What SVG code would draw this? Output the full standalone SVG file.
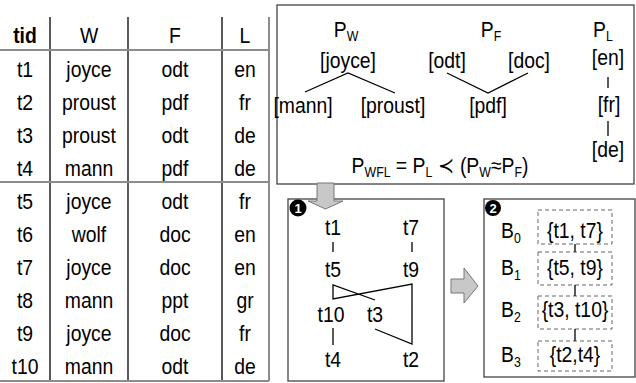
<svg xmlns="http://www.w3.org/2000/svg" width="636" height="383" viewBox="0 0 636 383">
<style>
text{font-family:"Liberation Sans",Arial,sans-serif;font-size:22px;fill:#000;text-anchor:middle;transform-box:fill-box;transform-origin:center;transform:scaleX(0.88)}
.b{font-weight:bold}
.sub{font-size:14px}
.num{font-size:13px;font-weight:bold;fill:#fff;transform:none}
.gl{stroke:#8c8c8c;stroke-width:2;fill:none}
.dl{stroke:#000;stroke-width:1.3;fill:none}
.box{fill:#fff;stroke:#444;stroke-width:1.3}
.dash{fill:none;stroke:#666;stroke-width:1;stroke-dasharray:4,3}
.arrow{fill:#c8c8c8;stroke:#777;stroke-width:1}
</style>
<rect width="636" height="383" fill="#fff"/>
<g id="table">
<line class="dl" x1="50" y1="17" x2="50" y2="381"/>
<line class="dl" x1="128" y1="17" x2="128" y2="381"/>
<line class="dl" x1="222" y1="17" x2="222" y2="381"/>
<line class="gl" x1="269" y1="17" x2="269" y2="381"/>
<line class="gl" x1="0" y1="50" x2="269" y2="50"/>
<line class="gl" x1="0" y1="182" x2="269" y2="182"/>
<line class="gl" x1="0" y1="381" x2="269" y2="381"/>
<text class="b" x="25" y="43">tid</text><text x="89" y="43">W</text><text x="175" y="43">F</text><text x="245" y="43">L</text>
<text x="25" y="77">t1</text><text x="89" y="77">joyce</text><text x="175" y="77">odt</text><text x="245" y="77">en</text>
<text x="25" y="110">t2</text><text x="89" y="110">proust</text><text x="175" y="110">pdf</text><text x="245" y="110">fr</text>
<text x="25" y="143">t3</text><text x="89" y="143">proust</text><text x="175" y="143">odt</text><text x="245" y="143">de</text>
<text x="25" y="176">t4</text><text x="89" y="176">mann</text><text x="175" y="176">pdf</text><text x="245" y="176">de</text>
<text x="25" y="209">t5</text><text x="89" y="209">joyce</text><text x="175" y="209">odt</text><text x="245" y="209">fr</text>
<text x="25" y="242">t6</text><text x="89" y="242">wolf</text><text x="175" y="242">doc</text><text x="245" y="242">en</text>
<text x="25" y="275">t7</text><text x="89" y="275">joyce</text><text x="175" y="275">doc</text><text x="245" y="275">en</text>
<text x="25" y="308">t8</text><text x="89" y="308">mann</text><text x="175" y="308">ppt</text><text x="245" y="308">gr</text>
<text x="25" y="341">t9</text><text x="89" y="341">joyce</text><text x="175" y="341">doc</text><text x="245" y="341">fr</text>
<text x="25" y="374">t10</text><text x="89" y="374">mann</text><text x="175" y="374">odt</text><text x="245" y="374">de</text>
</g>
<g id="hierarchies">
<rect class="box" x="277" y="5" width="357" height="179"/>
<text x="346" y="37">P<tspan class="sub" dy="4">W</tspan></text>
<text x="491" y="37">P<tspan class="sub" dy="4">F</tspan></text>
<text x="603" y="37">P<tspan class="sub" dy="4">L</tspan></text>
<text x="348" y="68">[joyce]</text>
<text x="303" y="113">[mann]</text>
<text x="393" y="113">[proust]</text>
<text x="447" y="68">[odt]</text>
<text x="529" y="68">[doc]</text>
<text x="488" y="113">[pdf]</text>
<text x="608" y="65">[en]</text>
<text x="609" y="112">[fr]</text>
<text x="608" y="157">[de]</text>
<polyline class="dl" points="305,92 348,73 395,93"/>
<polyline class="dl" points="447,73 488,93 528,73"/>
<line class="dl" x1="608" y1="77" x2="608" y2="88"/>
<line class="dl" x1="608" y1="121" x2="608" y2="136"/>
<text x="440" y="173">P<tspan class="sub" dy="4">WFL</tspan><tspan dy="-4"> = P</tspan><tspan class="sub" dy="4">L</tspan><tspan dy="-4"> ≺ (P</tspan><tspan class="sub" dy="4">W</tspan><tspan dy="-4">≈P</tspan><tspan class="sub" dy="4">F</tspan><tspan dy="-4">)</tspan></text>
</g>
<g id="step1">
<rect class="box" x="288" y="199" width="156" height="182"/>
<circle cx="298" cy="208" r="8.5" fill="#000"/>
<text class="num" x="298" y="213">1</text>
<text x="333" y="235">t1</text><text x="411" y="235">t7</text>
<text x="333" y="277">t5</text><text x="411" y="277">t9</text>
<text x="331" y="322">t10</text><text x="375" y="322">t3</text>
<text x="333" y="367">t4</text><text x="411" y="367">t2</text>
</g>
<g id="step2">
<rect class="box" x="484" y="199" width="151" height="178"/>
<circle cx="493" cy="208" r="8" fill="#000"/>
<text class="num" x="493" y="213">2</text>
<text x="511" y="238">B<tspan class="sub" dy="5">0</tspan></text>
<text x="511" y="275">B<tspan class="sub" dy="5">1</tspan></text>
<text x="511" y="317">B<tspan class="sub" dy="5">2</tspan></text>
<text x="511" y="362">B<tspan class="sub" dy="5">3</tspan></text>
<rect class="dash" x="538" y="210" width="74" height="34"/>
<rect class="dash" x="538" y="252" width="74" height="33"/>
<rect class="dash" x="538" y="296" width="74" height="33"/>
<rect class="dash" x="538" y="341" width="74" height="30"/>
<text x="575" y="238">{t1, t7}</text>
<text x="575" y="275">{t5, t9}</text>
<text x="575" y="317">{t3, t10}</text>
<text x="575" y="362">{t2,t4}</text>
</g>
<g id="connectors">
<line class="dl" x1="333" y1="242" x2="333" y2="252"/>
<line class="dl" x1="412" y1="242" x2="412" y2="252"/>
<line class="dl" x1="333" y1="328" x2="333" y2="345"/>
<polyline class="dl" points="375,300 333,285 333,299 412,284 412,344 375,329"/>
<line class="dl" x1="575" y1="244" x2="575" y2="252"/>
<line class="dl" x1="575" y1="285" x2="575" y2="296"/>
<line class="dl" x1="575" y1="329" x2="575" y2="341"/>
<polygon class="arrow" points="317,183 334,183 334,201 343,201 325.5,209 308,201 317,201"/>
<polygon class="arrow" points="451,279 464,279 464,268 478,286 464,303 464,293 451,293"/>
</g>
</svg>
